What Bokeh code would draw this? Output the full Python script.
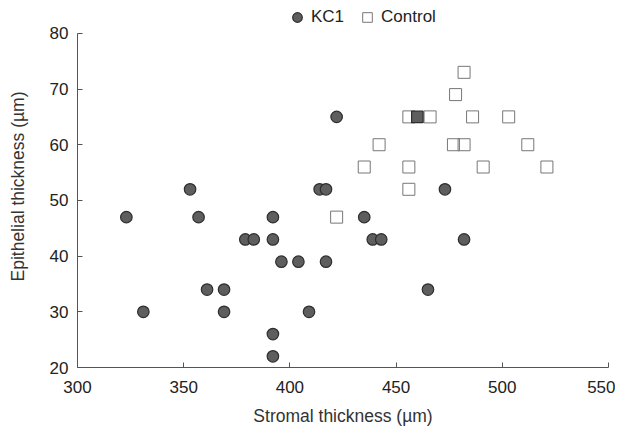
from bokeh.plotting import figure
from bokeh.models import Range1d, ColumnDataSource, Legend, LegendItem, FixedTicker
from bokeh.embed import file_html
from bokeh.resources import INLINE

# KC1 group (filled)
kc1_x = [323, 331, 353, 357, 361, 369, 369, 379, 383, 392, 392, 392, 392, 396,
         404, 409, 414, 417, 417, 422, 435, 439, 443, 460, 465, 473, 482]
kc1_y = [47, 30, 52, 47, 34, 34, 30, 43, 43, 47, 43, 26, 22, 39,
         39, 30, 52, 52, 39, 65, 47, 43, 43, 65, 34, 52, 43]
kc1_marker = ["circle"] * 23 + ["square"] + ["circle"] * 3

# Control group (open squares)
ctl_x = [422, 435, 442, 456, 456, 456, 466, 477, 478, 482, 482, 486, 491, 503, 512, 521]
ctl_y = [47, 56, 60, 52, 56, 65, 65, 60, 69, 60, 73, 65, 56, 65, 60, 56]

x_ticks = [300, 350, 400, 450, 500, 550]
y_ticks = [20, 30, 40, 50, 60, 70, 80]

FONT = "Liberation Sans"

p = figure(width=615, height=428, output_backend="svg", toolbar_location=None,
           x_range=Range1d(300, 550), y_range=Range1d(20, 85),
           min_border_left=77, min_border_right=7, min_border_top=5,
           min_border_bottom=61)
p.outline_line_color = None
p.grid.visible = False
p.background_fill_color = "white"

kc1_src = ColumnDataSource(dict(x=kc1_x, y=kc1_y, m=kc1_marker))
ctl_src = ColumnDataSource(dict(x=ctl_x, y=ctl_y))

r_ctl = p.scatter("x", "y", source=ctl_src, marker="square", size=12,
                  fill_color=None, line_color="#777777", line_width=1)
r_kc1 = p.scatter("x", "y", source=kc1_src, marker="m", size=11.5,
                  fill_color="#5e5e5e", line_color="#2e2e2e", line_width=1.2)

for ax in (p.xaxis[0], p.yaxis[0]):
    ax.major_tick_in = 5
    ax.major_tick_out = 0
    ax.minor_tick_line_color = None
    ax.axis_line_color = "#555555"
    ax.major_tick_line_color = "#555555"
    ax.major_label_text_font = FONT
    ax.major_label_text_font_size = "17px"
    ax.major_label_text_color = "#222222"
    ax.axis_label_text_font = FONT
    ax.axis_label_text_font_size = "17.5px"
    ax.axis_label_text_font_style = "normal"
    ax.axis_label_text_color = "#333333"

p.yaxis.bounds = (20, 80)
p.xaxis.ticker = FixedTicker(ticks=x_ticks)
p.yaxis.ticker = FixedTicker(ticks=y_ticks)
p.xaxis.axis_label = "Stromal thickness (µm)"
p.yaxis.axis_label = "Epithelial thickness (µm)"
p.xaxis.major_label_standoff = 13
p.yaxis.major_label_standoff = 9
p.xaxis.axis_label_standoff = 10
p.yaxis.axis_label_standoff = 19

legend = Legend(items=[LegendItem(label="KC1", renderers=[r_kc1], index=0),
                       LegendItem(label="Control", renderers=[r_ctl])],
                orientation="horizontal", location=(208, 338),
                border_line_color=None, background_fill_alpha=0,
                label_text_font=FONT, label_text_font_size="17px",
                label_text_color="#222222", spacing=11, padding=0, margin=0,
                glyph_width=24, glyph_height=24, label_standoff=2)
p.add_layout(legend)

open("out.html", "w").write(file_html(p, INLINE))
